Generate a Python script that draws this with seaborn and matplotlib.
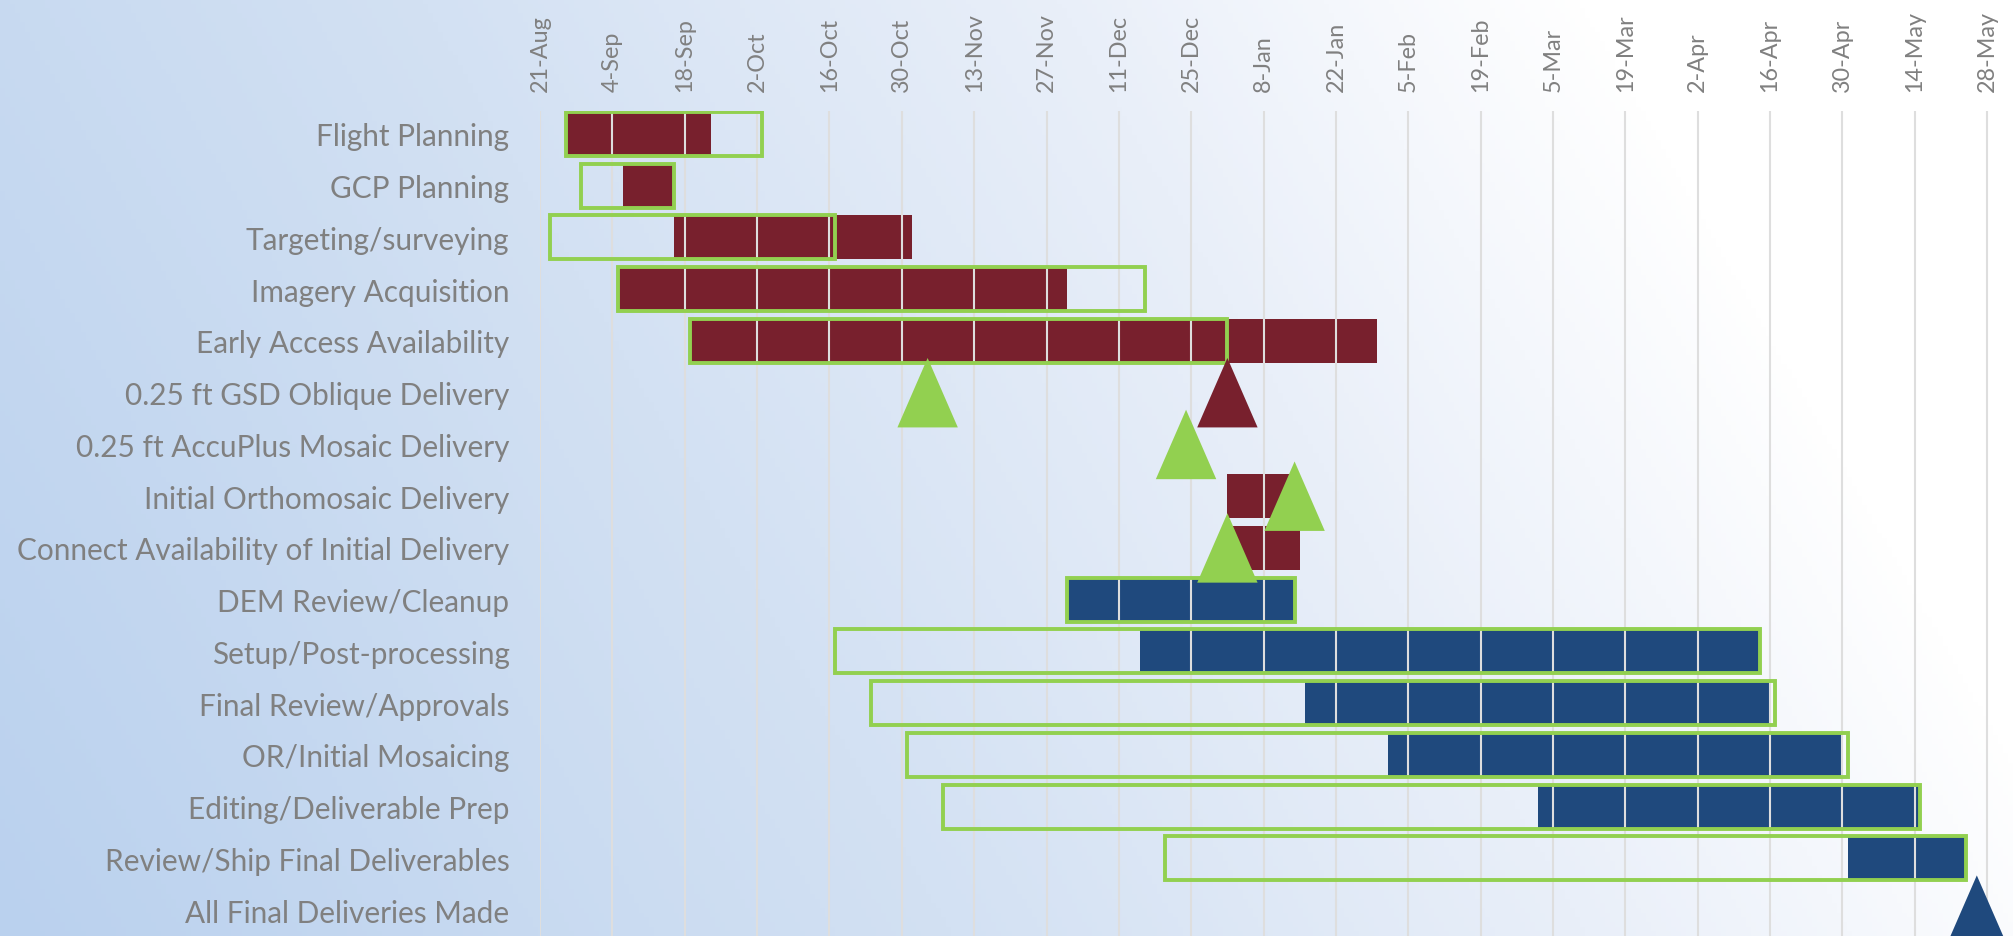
import numpy as np
import pandas as pd
import matplotlib
matplotlib.use("Agg")
import matplotlib.pyplot as plt
import matplotlib.dates as mdates
from matplotlib.colors import LinearSegmentedColormap
import seaborn as sns

# Tasks, top to bottom
tasks = [
    "Flight Planning", "GCP Planning", "Targeting/surveying", "Imagery Acquisition",
    "Early Access Availability", "0.25 ft GSD Oblique Delivery",
    "0.25 ft AccuPlus Mosaic Delivery", "Initial Orthomosaic Delivery",
    "Connect Availability of Initial Delivery", "DEM Review/Cleanup",
    "Setup/Post-processing", "Final Review/Approvals", "OR/Initial Mosaicing",
    "Editing/Deliverable Prep", "Review/Ship Final Deliverables", "All Final Deliveries Made",
]
phase = ["acq"] * 9 + ["prod"] * 7

# Planned schedule (green outline)
plan_start = ["2017-08-26", "2017-08-29", "2017-08-23", "2017-09-05", "2017-09-19", None, None, None, None,
              "2017-12-01", "2017-10-17", "2017-10-24", "2017-10-31", "2017-11-07", "2017-12-20", None]
plan_end = ["2017-10-03", "2017-09-16", "2017-10-17", "2017-12-16", "2018-01-01", None, None, None, None,
            "2018-01-14", "2018-04-14", "2018-04-17", "2018-05-01", "2018-05-15", "2018-05-24", None]

# Actual schedule (filled bars)
actual_start = ["2017-08-26", "2017-09-06", "2017-09-16", "2017-09-05", "2017-09-19", None, None,
                "2018-01-01", "2018-01-01", "2017-12-01", "2017-12-15", "2018-01-16", "2018-02-01",
                "2018-03-02", "2018-05-01", None]
actual_end = ["2017-09-23", "2017-09-16", "2017-11-01", "2017-12-01", "2018-01-30", None, None,
              "2018-01-15", "2018-01-15", "2018-01-14", "2018-04-14", "2018-04-16", "2018-04-30",
              "2018-05-15", "2018-05-24", None]

# Milestones (triangles)
ms_task = ["0.25 ft GSD Oblique Delivery", "0.25 ft GSD Oblique Delivery", "0.25 ft AccuPlus Mosaic Delivery",
           "Initial Orthomosaic Delivery", "Connect Availability of Initial Delivery", "All Final Deliveries Made"]
ms_date = ["2017-11-04", "2018-01-01", "2017-12-24", "2018-01-14", "2018-01-01", "2018-05-26"]
ms_kind = ["plan", "acq", "plan", "plan", "plan", "prod"]

tick_labels = ["21-Aug", "4-Sep", "18-Sep", "2-Oct", "16-Oct", "30-Oct", "13-Nov", "27-Nov", "11-Dec",
               "25-Dec", "8-Jan", "22-Jan", "5-Feb", "19-Feb", "5-Mar", "19-Mar", "2-Apr", "16-Apr",
               "30-Apr", "14-May", "28-May"]

colors = {"acq": "#78202d", "prod": "#1f497d", "plan": "#92d050"}
grey = "#808080"

df = pd.DataFrame({"task": tasks, "phase": phase,
                   "p0": pd.to_datetime(plan_start), "p1": pd.to_datetime(plan_end),
                   "a0": pd.to_datetime(actual_start), "a1": pd.to_datetime(actual_end)})
df["pos"] = np.arange(len(df))
for c in ["p0", "p1", "a0", "a1"]:
    df[c + "n"] = mdates.date2num(df[c])

ms = pd.DataFrame({"task": ms_task, "kind": ms_kind, "date": pd.to_datetime(ms_date)})
ms["x"] = mdates.date2num(ms["date"])
ms["pos"] = ms["task"].map({t: i for i, t in enumerate(tasks)})

sns.set_theme(style="white")
plt.rcParams["font.family"] = ["Lato", "DejaVu Sans"]

W, H = 2013, 937
fig = plt.figure(figsize=(W / 100, H / 100), dpi=100)

# gradient background: blue at bottom-left fading to white at the right
bg = fig.add_axes([0, 0, 1, 1])
xx, yy = np.meshgrid(np.linspace(0, 1, 400), np.linspace(0, 1, 200))
t = xx * 0.95 + (1 - yy) * 0.25
grad = LinearSegmentedColormap.from_list(
    "bg", [(0, "#bad1ee"), (0.45, "#d3e1f3"), (0.75, "#e9eff9"), (1.0, "#ffffff")])
bg.imshow(np.clip(t, 0, 1), cmap=grad, vmin=0, vmax=1, aspect="auto", extent=[0, 1, 0, 1])
bg.axis("off")

x_left = 540 / W
ax = fig.add_axes([x_left, 0, 1 - x_left, 1 - 111.7 / H])
ax.patch.set_alpha(0)

# actual bars
act = df.dropna(subset=["a0"])
ax.barh(act["pos"], act["a1n"] - act["a0n"], left=act["a0n"], height=0.85,
        color=[colors[p] for p in act["phase"]], linewidth=0, zorder=1)

# planned outlines
pl = df.dropna(subset=["p0"])
ax.barh(pl["pos"], pl["p1n"] - pl["p0n"], left=pl["p0n"], height=0.85, fill=False,
        edgecolor=colors["plan"], linewidth=2.8, zorder=3)

# milestones
tri = [(0, 1), (-0.87, -1), (0.87, -1)]
sns.scatterplot(data=ms, x="x", y="pos", hue="kind", palette=colors, marker=tri, s=2500,
                linewidth=0, edgecolor="none", legend=False, ax=ax, zorder=4, clip_on=False)

tick_dates = pd.date_range("2017-08-21", periods=len(tick_labels), freq="14D")
x0 = mdates.date2num(tick_dates[0])
ax.set_xlim(x0, x0 + 285)
ax.set_ylim(15.5, -0.45)

ax.xaxis.tick_top()
ax.set_xticks(mdates.date2num(tick_dates))
ax.set_xticklabels(tick_labels, rotation=90, fontsize=16.8, color=grey)
ax.set_yticks(df["pos"])
ax.set_yticklabels(tasks, fontsize=21.4, color=grey)
ax.tick_params(axis="x", length=0, pad=14.4)
ax.tick_params(axis="y", length=0, pad=22)
ax.set_xlabel("")
ax.set_ylabel("")

ax.grid(axis="x", color="#dedede", linewidth=1.5)
ax.grid(axis="y", visible=False)
ax.set_axisbelow(False)
for s in ax.spines.values():
    s.set_visible(False)

fig.savefig("out.png", dpi=100)
